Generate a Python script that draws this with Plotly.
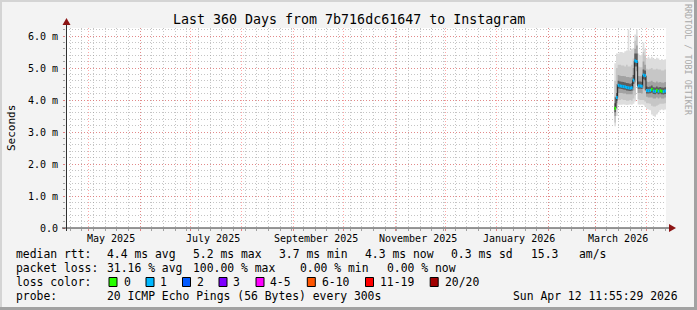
import plotly.graph_objects as go
import pandas as pd

# ---------------- data ----------------
title_text = "Last 360 Days from 7b716dc61647 to Instagram"
range_start = "2025-04-17 11:55:29"
range_end = "2026-04-12 11:55:29"

month_starts = ["2025-05-01", "2025-06-01", "2025-07-01", "2025-08-01", "2025-09-01",
                "2025-10-01", "2025-11-01", "2025-12-01", "2026-01-01", "2026-02-01",
                "2026-03-01", "2026-04-01"]
x_label_text = ["May 2025", "July 2025", "September 2025", "November 2025",
                "January 2026", "March 2026"]
x_label_pos = ["2025-05-14 12:00", "2025-07-14 12:00", "2025-09-14 12:00",
               "2025-11-14 12:00", "2026-01-14 12:00", "2026-03-14 12:00"]
y_tick_vals = [0, 1, 2, 3, 4, 5, 6]
y_tick_text = ["0.0", "1.0 m", "2.0 m", "3.0 m", "4.0 m", "5.0 m", "6.0 m"]

first_day = "2026-03-12 12:00"
n_days = 31

# median RTT per day (ms)
median = [3.74, 4.08, 4.46, 4.44, 4.43, 4.42, 4.41, 4.39, 4.38, 4.37, 4.38, 4.62, 5.22, 5.20,
          4.44, 4.44, 4.43, 4.78, 4.76, 4.30, 4.29, 4.30, 4.33, 4.28, 4.27, 4.30, 4.27, 4.29,
          4.27, 4.26, 4.28]
# lost pings out of 20 per day
lost = [0, 1, 1, 1, 1, 1, 1, 1, 1, 1, 1, 1, 1, 1, 1, 1, 1, 1, 1, 1, 1, 1, 0, 1, 1, 0, 1, 0,
        0, 1, 1]
# smoke (ping distribution) per day (ms)
smoke_min = [3.18, 3.50, 3.85, 3.85, 3.85, 3.86, 3.85, 3.84, 3.85, 3.86, 3.85, 3.88, 3.95, 4.45,
             3.86, 3.85, 3.86, 3.85, 3.80, 3.72, 3.70, 3.68, 3.55, 3.50, 3.48, 3.55, 3.62, 3.68,
             3.70, 3.68, 3.70]
smoke_p10 = [3.30, 3.70, 4.00, 4.00, 4.02, 4.00, 4.00, 3.98, 3.98, 4.00, 3.98, 4.05, 4.15, 4.60,
             4.02, 4.00, 4.00, 4.00, 3.95, 3.90, 3.90, 3.88, 3.82, 3.80, 3.80, 3.82, 3.85, 3.88,
             3.88, 3.88, 3.90]
smoke_p25 = [3.50, 3.90, 4.22, 4.22, 4.22, 4.20, 4.20, 4.18, 4.18, 4.18, 4.18, 4.30, 4.55, 4.90,
             4.22, 4.22, 4.20, 4.35, 4.30, 4.10, 4.08, 4.08, 4.08, 4.05, 4.05, 4.08, 4.05, 4.08,
             4.05, 4.05, 4.08]
smoke_p40 = [3.62, 3.98, 4.36, 4.35, 4.34, 4.33, 4.32, 4.30, 4.29, 4.28, 4.29, 4.50, 5.05, 5.05,
             4.35, 4.35, 4.34, 4.65, 4.62, 4.20, 4.20, 4.21, 4.23, 4.19, 4.18, 4.21, 4.18, 4.20,
             4.18, 4.17, 4.19]
smoke_p60 = [3.90, 4.22, 4.60, 4.58, 4.57, 4.56, 4.55, 4.53, 4.52, 4.51, 4.52, 4.78, 5.45, 5.45,
             4.58, 4.58, 4.57, 4.95, 4.92, 4.42, 4.41, 4.42, 4.45, 4.40, 4.39, 4.42, 4.39, 4.41,
             4.39, 4.38, 4.40]
smoke_p75 = [4.10, 4.50, 4.78, 4.76, 4.75, 4.75, 4.74, 4.72, 4.72, 4.70, 4.72, 5.00, 5.60, 5.70,
             4.75, 4.74, 4.74, 5.20, 5.10, 4.58, 4.56, 4.58, 4.60, 4.56, 4.55, 4.58, 4.55, 4.56,
             4.55, 4.54, 4.56]
smoke_p90 = [4.60, 5.00, 5.10, 5.10, 5.08, 5.08, 5.05, 5.10, 5.05, 5.05, 5.10, 5.30, 5.85, 6.00,
             5.05, 5.02, 5.02, 5.50, 5.40, 4.98, 4.95, 4.98, 5.00, 4.95, 4.95, 4.98, 4.95, 4.95,
             4.92, 4.92, 4.95]
smoke_max = [5.15, 5.45, 5.45, 5.50, 5.50, 5.48, 5.52, 5.55, 6.20, 5.55, 5.60, 5.62, 6.05, 6.20,
             5.45, 5.40, 5.42, 5.80, 5.60, 5.30, 5.35, 5.30, 5.35, 5.30, 5.28, 5.32, 5.30, 5.25,
             5.28, 5.25, 5.27]

loss_labels = ["0", "1", "2", "3", "4-5", "6-10", "11-19", "20/20"]
loss_lo = [0, 1, 2, 3, 4, 6, 11, 20]
loss_hi = [0, 1, 2, 3, 5, 10, 19, 20]
loss_colors = ["#26ff00", "#00b8ff", "#0059ff", "#7e00ff", "#ff00ff", "#ff5500", "#ff0000", "#a10000"]

stats_rows = [
    [("median rtt:", 16), ("4.4 ms avg", 107.3), ("5.2 ms max", 193.3), ("3.7 ms min", 279),
     ("4.3 ms now", 365), ("0.3 ms sd", 451), ("15.3", 530.7), ("am/s", 579.3)],
    [("packet loss:", 16), ("31.16 % avg", 107.3), ("100.00 % max", 193.3), ("0.00 % min", 300),
     ("0.00 % now", 386.7)],
    [("loss color:", 16)],
    [("probe:", 16), ("20 ICMP Echo Pings (56 Bytes) every 300s", 107.3),
     ("Sun Apr 12 11:55:29 2026", 513.3)],
]
stats_y = [254.3, 268.3, 282.3, 296.0]
legend_box_x = [109, 146, 182.5, 219, 256, 307.3, 365.5, 430.2]
legend_text_x = [123.5, 160.2, 196.8, 233.4, 270.4, 321.8, 380.2, 444.5]

# ---------------- layout geometry ----------------
W, H = 697, 310
L, R, T, B = 66, 666, 28, 228


def px(x):
    return (x - L) / (R - L)


def py(y):
    return (B - y) / (B - T)


FONT = "DejaVu Sans Mono"
GRID_GRAY = "rgba(140,140,140,0.5)"
GRID_RED = "rgba(255,80,80,0.5)"
DASH = "1px,2px"

days = pd.date_range(first_day, periods=n_days + 1, freq="D")


def ext(v):
    return list(v) + [v[-1]]


fig = go.Figure()

bands = [
    (smoke_min, smoke_max, "#dddddd"),
    (smoke_p10, smoke_p90, "#c6c6c6"),
    (smoke_p25, smoke_p75, "#a2a2a2"),
    (smoke_p40, smoke_p60, "#5e5e5e"),
]
for lo, hi, col in bands:
    fig.add_trace(go.Scatter(x=days, y=ext(lo), mode="lines", line=dict(width=0, shape="hv"),
                             hoverinfo="skip", showlegend=False))
    fig.add_trace(go.Scatter(x=days, y=ext(hi), mode="lines", line=dict(width=0, shape="hv"),
                             fill="tonexty", fillcolor=col, hoverinfo="skip", showlegend=False))

fig.add_trace(go.Scatter(x=days, y=ext(median), mode="lines",
                         line=dict(width=1, color="#202020", shape="hv"),
                         hoverinfo="skip", showlegend=False))

for lab, lo_, hi_, col in zip(loss_labels, loss_lo, loss_hi, loss_colors):
    xs, ys = [], []
    for i in range(n_days):
        if lo_ <= lost[i] <= hi_:
            xs += [days[i], days[i + 1], None]
            ys += [median[i], median[i], None]
    if xs:
        fig.add_trace(go.Scatter(x=xs, y=ys, mode="lines", line=dict(width=3, color=col),
                                 hoverinfo="skip", showlegend=False))

shapes = []
annotations = []

# axes lines and arrows
shapes.append(dict(type="line", xref="paper", yref="paper", x0=px(66.5), x1=px(66.5),
                   y0=py(231), y1=py(24), line=dict(color="#303030", width=1), layer="above"))
shapes.append(dict(type="line", xref="paper", yref="paper", x0=px(62), x1=px(671),
                   y0=py(228), y1=py(228), line=dict(color="#303030", width=1), layer="above"))
shapes.append(dict(type="path", xref="paper", yref="paper",
                   path=f"M {px(66.5)},{py(18)} L {px(62.5)},{py(25)} L {px(70.5)},{py(25)} Z",
                   fillcolor="#8c1414", line=dict(width=0), layer="above"))
shapes.append(dict(type="path", xref="paper", yref="paper",
                   path=f"M {px(676)},{py(228)} L {px(669)},{py(224)} L {px(669)},{py(232)} Z",
                   fillcolor="#8c1414", line=dict(width=0), layer="above"))

# frame
shapes.append(dict(type="rect", xref="paper", yref="paper", x0=px(0), x1=px(697), y0=py(0), y1=py(2),
                   fillcolor="#d4d4d4", line=dict(width=0), layer="below"))
shapes.append(dict(type="rect", xref="paper", yref="paper", x0=px(0), x1=px(2), y0=py(0), y1=py(310),
                   fillcolor="#d4d4d4", line=dict(width=0), layer="below"))
shapes.append(dict(type="rect", xref="paper", yref="paper", x0=px(694), x1=px(697), y0=py(0), y1=py(310),
                   fillcolor="#a2a2a2", line=dict(width=0), layer="below"))
shapes.append(dict(type="rect", xref="paper", yref="paper", x0=px(0), x1=px(697), y0=py(307), y1=py(310),
                   fillcolor="#a2a2a2", line=dict(width=0), layer="below"))

# legend boxes
for bx, col in zip(legend_box_x, loss_colors):
    shapes.append(dict(type="rect", xref="paper", yref="paper", x0=px(bx), x1=px(bx + 8),
                       y0=py(277.5), y1=py(286.5), fillcolor=col,
                       line=dict(color="#000000", width=1)))
for tx, lab in zip(legend_text_x, loss_labels):
    annotations.append(dict(x=px(tx), y=py(282.3), xref="paper", yref="paper", text=lab,
                            showarrow=False, xanchor="left", yanchor="middle",
                            borderpad=0, borderwidth=0,
                            font=dict(family=FONT, size=11.4, color="#000000")))

# stats text
for row, yy in zip(stats_rows, stats_y):
    for txt, xx in row:
        annotations.append(dict(x=px(xx), y=py(yy), xref="paper", yref="paper", text=txt,
                                showarrow=False, xanchor="left", yanchor="middle",
                                borderpad=0, borderwidth=0,
                                font=dict(family=FONT, size=11.4, color="#000000")))

# x labels
for txt, pos in zip(x_label_text, x_label_pos):
    annotations.append(dict(x=pos, y=py(238), xref="x", yref="paper", text=txt,
                            showarrow=False, xanchor="center", yanchor="middle",
                            borderpad=0, borderwidth=0,
                            font=dict(family=FONT, size=10, color="#000000")))

# title
annotations.append(dict(x=px(348.5), y=py(19), xref="paper", yref="paper", text=title_text,
                        showarrow=False, xanchor="center", yanchor="middle",
                        borderpad=0, borderwidth=0,
                        font=dict(family=FONT, size=13.3, color="#000000")))
# y title
annotations.append(dict(x=px(11), y=py(128), xref="paper", yref="paper", text="Seconds",
                        showarrow=False, xanchor="center", yanchor="middle", textangle=-90,
                        borderpad=0, borderwidth=0,
                        font=dict(family=FONT, size=11, color="#000000")))
# watermark
annotations.append(dict(x=px(688), y=py(60), xref="paper", yref="paper",
                        text="RRDTOOL / TOBI OETIKER",
                        showarrow=False, xanchor="center", yanchor="middle", textangle=90,
                        borderpad=0, borderwidth=0,
                        font=dict(family=FONT, size=8.4, color="#a8a8a8")))

fig.update_layout(
    width=W, height=H,
    margin=dict(l=L, r=W - R, t=T, b=H - B, pad=0),
    paper_bgcolor="#f3f3f3",
    plot_bgcolor="#ffffff",
    showlegend=False,
    shapes=shapes,
    annotations=annotations,
    xaxis=dict(
        type="date", range=[range_start, range_end], fixedrange=True,
        tickmode="array", tickvals=month_starts, showticklabels=False,
        ticks="outside", ticklen=2, tickcolor="#e08080",
        showgrid=True, gridcolor=GRID_RED, griddash=DASH, gridwidth=1,
        minor=dict(dtick=7 * 86400000, tick0="2025-04-20", showgrid=True,
                   gridcolor=GRID_GRAY, griddash=DASH, gridwidth=1,
                   ticks="outside", ticklen=2, tickcolor="#a0a0a0"),
        zeroline=False, showline=False,
    ),
    yaxis=dict(
        range=[0, 6.25], fixedrange=True,
        tickmode="array", tickvals=y_tick_vals, ticktext=y_tick_text,
        tickfont=dict(family=FONT, size=10, color="#000000"),
        ticks="outside", ticklen=2, tickcolor="#e08080",
        ticklabelstandoff=3,
        showgrid=True, gridcolor=GRID_RED, griddash=DASH, gridwidth=1,
        minor=dict(dtick=0.2, tick0=0, showgrid=True, gridcolor=GRID_GRAY,
                   griddash=DASH, gridwidth=1,
                   ticks="outside", ticklen=2, tickcolor="#a0a0a0"),
        zeroline=False, showline=False,
    ),
)

fig.write_html("out.html")
